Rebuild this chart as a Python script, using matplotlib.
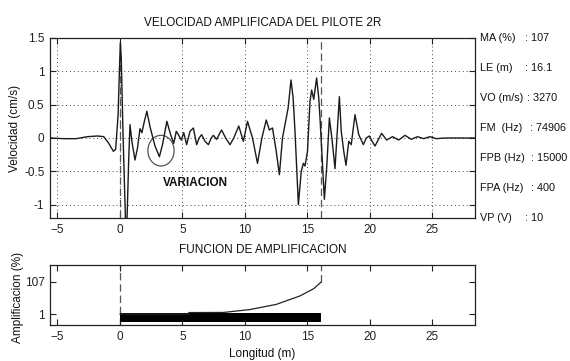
import matplotlib
matplotlib.use("Agg")
import matplotlib.pyplot as plt
from matplotlib.patches import Ellipse

plt.rcParams['font.family'] = ['Liberation Sans Narrow', 'Liberation Sans', 'DejaVu Sans']

# --- data ---
wave_x = [-5.6, -4.5, -3.5, -2.6, -1.8, -1.3, -0.9, -0.53, -0.35, -0.15, -0.05, 0.03, 0.1, 0.25,
          0.45, 0.55, 0.7, 0.8, 0.95, 1.2, 1.4, 1.6, 1.75, 1.95, 2.15, 2.4, 2.8, 3.15, 3.4, 3.75,
          4.05, 4.3, 4.5, 4.67, 4.9, 5.1, 5.33, 5.6, 5.87, 6.13, 6.33, 6.53, 6.8, 7.07, 7.3, 7.47,
          7.73, 7.95, 8.13, 8.45, 8.8, 9.1, 9.5, 9.87, 10.2, 10.6, 11.0, 11.35, 11.7, 11.95, 12.2,
          12.5, 12.75, 13.0, 13.2, 13.45, 13.68, 13.85, 14.0, 14.27, 14.5, 14.67, 14.8, 15.0, 15.2,
          15.33, 15.5, 15.73, 15.9, 16.0, 16.35, 16.55, 16.75, 16.95, 17.2, 17.55, 17.7, 17.9, 18.08,
          18.3, 18.5, 18.8, 19.1, 19.47, 19.7, 19.95, 20.2, 20.4, 20.93, 21.33, 21.8, 22.3, 22.8,
          23.3, 23.8, 24.3, 24.8, 25.3, 26.0, 28.4]
wave_y = [0.0, -0.01, -0.01, 0.02, 0.03, 0.02, -0.08, -0.2, -0.17, 0.35, 1.0, 1.43, 1.2, 0.0,
          -1.3, -1.3, -0.3, 0.2, -0.05, -0.33, -0.15, 0.14, 0.08, 0.25, 0.40, 0.17, -0.12, -0.28, -0.1, 0.25,
          0.05, -0.08, 0.1, 0.05, -0.03, 0.08, -0.1, 0.1, 0.15, -0.1, 0.0, 0.05, -0.05, -0.1, 0.0, 0.04,
          -0.02, 0.06, 0.12, 0.0, -0.1, 0.0, 0.18, -0.05, 0.25, 0.0, -0.38, 0.0, 0.27, 0.12, 0.15,
          -0.2, -0.55, 0.0, 0.2, 0.45, 0.87, 0.6, 0.1, -1.0, -0.5, -0.38, -0.42, -0.2, 0.55,
          0.72, 0.58, 0.9, 0.6, 0.3, -0.92, -0.4, 0.3, 0.0, -0.46, 0.62, 0.1, -0.2, -0.41,
          -0.05, -0.1, 0.35, 0.05, -0.1, 0.0, 0.03, -0.06, -0.12, 0.07, -0.03, 0.02, -0.03, 0.04,
          -0.02, 0.02, -0.01, 0.02, -0.01, 0.0, 0.0]

amp_x = [0.0, 5.5, 5.5, 8.3, 10.4, 12.5, 14.4, 15.5, 16.1]
amp_y = [1, 1, 6, 6.5, 16, 33, 61, 85, 107]
pile_length = 16.1
bar_bottom, bar_top = -24, 3

x_ticks = [-5, 0, 5, 10, 15, 20, 25]
y_ticks = [-1, -0.5, 0, 0.5, 1, 1.5]
y_tick_labels = ['-1', '-0.5', '0', '0.5', '1', '1.5']
amp_ticks = [1, 107]

params = [("MA (%)", ": 107"), ("LE (m)", ": 16.1"), ("VO (m/s)", ": 3270"),
          ("FM  (Hz)", ": 74906"), ("FPB (Hz)", ": 15000"), ("FPA (Hz)", ": 400"),
          ("VP (V)", ": 10")]
colon_px = [525, 525, 527, 530, 531, 531, 525]

W, H = 570, 361
fig = plt.figure(figsize=(W / 100, H / 100), dpi=100)
fig.patch.set_facecolor('white')

def axrect(l, t, r, b):
    return [l / W, 1 - b / H, (r - l) / W, (b - t) / H]

ax1 = fig.add_axes(axrect(50, 38, 475, 218))
ax2 = fig.add_axes(axrect(50, 265, 475, 325))

fs = 8.5
for ax in (ax1, ax2):
    ax.set_xlim(-5.6, 28.4)
    ax.set_xticks(x_ticks)
    ax.tick_params(direction='in', length=4, width=0.8, top=True, right=True,
                   labelsize=fs, pad=4, colors='#222222')
    for s in ax.spines.values():
        s.set_linewidth(0.9)
        s.set_color('#222222')

# top axes
ax1.set_ylim(-1.2, 1.5)
ax1.set_yticks(y_ticks)
ax1.set_yticklabels(y_tick_labels)
ax1.grid(True, linestyle=(0, (1, 3)), color='#444444', linewidth=0.7)
ax1.plot(wave_x, wave_y, color='#1a1a1a', linewidth=1.0, zorder=3)
ax1.axvline(0, color='#555555', linestyle=(0, (6, 3)), linewidth=0.9, zorder=2)
ax1.axvline(pile_length, color='#555555', linestyle=(0, (6, 3)), linewidth=0.9, zorder=2)
ax1.add_patch(Ellipse((3.28, -0.19), 2.1, 0.46, fill=False, edgecolor='#555555', linewidth=0.9))
ax1.text(3.4, -0.68, "VARIACION", fontsize=8.5, fontweight='bold', va='center', ha='left',
         color='#111111')

# bottom axes
ax2.set_ylim(-35, 163)
ax2.set_yticks(amp_ticks)
ax2.bar([0], [bar_top - bar_bottom], bottom=bar_bottom, width=pile_length, align='edge',
        color='black', zorder=2)
ax2.plot(amp_x, amp_y, color='#222222', linewidth=0.9, zorder=3)
ax2.axvline(0, color='#555555', linestyle=(0, (6, 3)), linewidth=0.9, zorder=1)
ax2.plot([pile_length, pile_length], [107, 163], color='#555555', linestyle=(0, (6, 3)),
         linewidth=0.9, zorder=1)

# texts
fig.text(262.5 / W, 1 - 23 / H, "VELOCIDAD AMPLIFICADA DEL PILOTE 2R", ha='center', va='center',
         fontsize=fs, color='#111111')
fig.text(262.5 / W, 1 - 250 / H, "FUNCION DE AMPLIFICACION", ha='center', va='center',
         fontsize=fs, color='#111111')
fig.text(262.5 / W, 1 - 354 / H, "Longitud (m)", ha='center', va='center', fontsize=fs,
         color='#111111')
fig.text(15 / W, 1 - 128 / H, "Velocidad (cm/s)", ha='center', va='center', rotation=90,
         fontsize=fs, color='#111111')
fig.text(18 / W, 1 - 297 / H, "Amplificacion (%)", ha='center', va='center', rotation=90,
         fontsize=fs, color='#111111')

for k, ((lab, val), cx) in enumerate(zip(params, colon_px)):
    ypx = 38 + 30 * k
    fig.text(480 / W, 1 - ypx / H, lab, ha='left', va='center', fontsize=7.8, color='#111111')
    fig.text(cx / W, 1 - ypx / H, val, ha='left', va='center', fontsize=7.8, color='#111111')

fig.savefig("out.png", dpi=100, facecolor='white')
